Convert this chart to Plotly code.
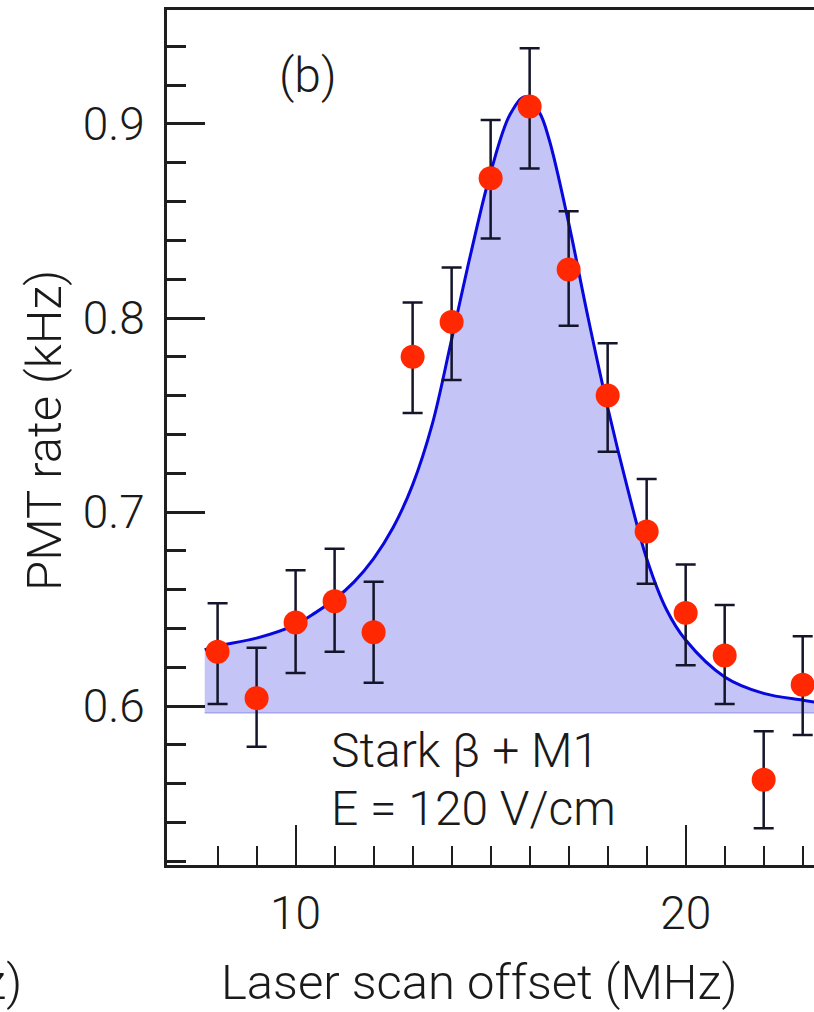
import plotly.graph_objects as go

# ---- data ----
x_pts = [8, 9, 10, 11, 12, 13, 14, 15, 16, 17, 18, 19, 20, 21, 22, 23]
y_pts = [0.628, 0.604, 0.643, 0.654, 0.638, 0.780, 0.798, 0.872, 0.909, 0.825,
         0.760, 0.690, 0.648, 0.626, 0.562, 0.611]
err_plus = [0.025, 0.026, 0.027, 0.027, 0.026, 0.028, 0.028, 0.030, 0.030, 0.030,
            0.027, 0.027, 0.025, 0.026, 0.025, 0.025]
err_minus = [0.027, 0.025, 0.026, 0.026, 0.026, 0.029, 0.030, 0.031, 0.032, 0.029,
             0.029, 0.027, 0.027, 0.025, 0.025, 0.026]

fit_x = [7.67, 8, 9, 10, 10.5, 11, 11.5, 12, 12.5, 13, 13.5, 14, 14.5, 15, 15.5,
         15.88, 16.25, 16.5, 17, 17.5, 18, 18.5, 19, 19.5, 20, 21, 22, 23, 23.3]
fit_y = [0.629, 0.631, 0.635, 0.642, 0.648, 0.655, 0.664, 0.676, 0.692, 0.714,
         0.745, 0.789, 0.834, 0.875, 0.905, 0.914, 0.906, 0.892, 0.849, 0.800,
         0.754, 0.713, 0.676, 0.650, 0.634, 0.615, 0.6065, 0.603, 0.602]
baseline_level = 0.5965

x_major = [10, 20]
x_minor = [8, 9, 11, 12, 13, 14, 15, 16, 17, 18, 19, 21, 22, 23]
y_major = [0.6, 0.7, 0.8, 0.9]
y_minor = [0.52, 0.54, 0.56, 0.58, 0.62, 0.64, 0.66, 0.68, 0.72, 0.74, 0.76,
           0.78, 0.82, 0.84, 0.86, 0.88, 0.92, 0.94]

FONT = "Roboto"
AXIS_COLOR = "#1e1e1e"
TICK_SIZE = 46
TEXT_SIZE = 48
TITLE_SIZE = 49

fig = go.Figure()

# baseline of the shaded region
fig.add_trace(go.Scatter(
    x=[fit_x[0], fit_x[-1]], y=[baseline_level, baseline_level],
    mode="lines", line=dict(color="rgb(165,165,235)", width=1.5),
    hoverinfo="skip", showlegend=False))

# fit curve with shading down to the baseline
fig.add_trace(go.Scatter(
    x=fit_x, y=fit_y, mode="lines",
    line=dict(color="rgb(8,8,220)", width=3, shape="spline", smoothing=1.0),
    fill="tonexty", fillcolor="rgb(196,196,246)",
    hoverinfo="skip", showlegend=False))

# data points with error bars
fig.add_trace(go.Scatter(
    x=x_pts, y=y_pts, mode="markers",
    marker=dict(color="rgb(255,40,0)", size=24, line=dict(width=0)),
    error_y=dict(type="data", array=err_plus, arrayminus=err_minus,
                 color="#14142a", thickness=2.5, width=10),
    showlegend=False))

fig.update_layout(
    width=814, height=1012,
    margin=dict(l=167, r=0, t=10, b=147),
    paper_bgcolor="white", plot_bgcolor="white",
    font=dict(family=FONT, size=TICK_SIZE, color="#1a1a1a", weight=300),
    xaxis=dict(
        range=[6.703, 23.29], showgrid=False, zeroline=False,
        showline=True, linecolor=AXIS_COLOR, linewidth=3, mirror=True,
        tickmode="array", tickvals=x_major, ticktext=[str(v) for v in x_major],
        ticks="inside", ticklen=40, tickwidth=2, tickcolor=AXIS_COLOR,
        ticklabelstandoff=6,
        tickfont=dict(family=FONT, size=TICK_SIZE, weight=300),
        minor=dict(tickmode="array", tickvals=x_minor, ticks="inside",
                   ticklen=19, tickwidth=2, tickcolor=AXIS_COLOR),
    ),
    yaxis=dict(
        range=[0.51804, 0.95876], showgrid=False, zeroline=False,
        showline=True, linecolor=AXIS_COLOR, linewidth=3, mirror=False,
        tickmode="array", tickvals=y_major,
        ticktext=[f"{v:.1f}" for v in y_major],
        ticks="inside", ticklen=38, tickwidth=3, tickcolor=AXIS_COLOR,
        ticklabelstandoff=10,
        tickfont=dict(family=FONT, size=TICK_SIZE, weight=300),
        minor=dict(tickmode="array", tickvals=y_minor,
                   ticks="inside", ticklen=19, tickwidth=3, tickcolor=AXIS_COLOR),
    ),
    annotations=[
        dict(text="(b)", x=10.32, y=0.925, xref="x", yref="y",
             showarrow=False, xanchor="center", yanchor="middle",
             font=dict(family=FONT, size=TEXT_SIZE, weight=300)),
        dict(text="Stark β + M1", x=10.85, y=0.5773, xref="x", yref="y",
             showarrow=False, xanchor="left", yanchor="middle",
             font=dict(family=FONT, size=TEXT_SIZE, weight=300)),
        dict(text="E = 120 V/cm", x=10.85, y=0.5474, xref="x", yref="y",
             showarrow=False, xanchor="left", yanchor="middle",
             font=dict(family=FONT, size=TEXT_SIZE, weight=300)),
        dict(text="Laser scan offset (MHz)", x=0.482, y=-0.1375,
             xref="paper", yref="paper", showarrow=False,
             xanchor="center", yanchor="middle",
             font=dict(family=FONT, size=TITLE_SIZE, weight=300)),
        dict(text="PMT rate (kHz)", x=-0.1886, y=0.5088,
             xref="paper", yref="paper", showarrow=False, textangle=-90,
             xanchor="center", yanchor="middle",
             font=dict(family=FONT, size=TITLE_SIZE, weight=300)),
        dict(text="(kHz)", x=-0.2215, y=-0.1375,
             xref="paper", yref="paper", showarrow=False,
             xanchor="right", yanchor="middle",
             font=dict(family=FONT, size=TITLE_SIZE, weight=300)),
    ],
)

fig.write_html("out.html")
